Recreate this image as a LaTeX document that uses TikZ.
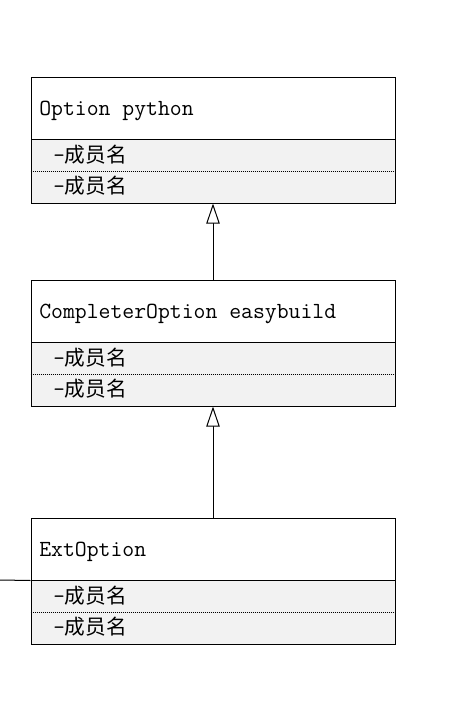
\documentclass[tikz,border=0pt]{standalone}
\usepackage{fontspec}
\newfontfamily\cjk{Noto Sans CJK SC}
\usetikzlibrary{arrows.meta}
\tikzset{
  hdr/.style={draw, line width=0.75pt, fill=white, minimum width=273pt, minimum height=46.5pt, inner sep=0pt},
  body/.style={draw, line width=0.75pt, fill=black!5, minimum width=273pt, minimum height=48pt, inner sep=0pt},
  sep/.style={line width=0.75pt, dash pattern=on 0.75pt off 0.75pt},
  title/.style={anchor=base west, inner sep=0pt, font=\fontsize{17.3pt}{20pt}\ttfamily},
  member/.style={anchor=base west, inner sep=0pt, font=\fontsize{16.8pt}{20pt}\ttfamily},
  inh/.style={line width=0.75pt, -{Triangle[open, length=15pt, width=10pt, fill=white]}},
  plain/.style={line width=0.75pt}
}
\begin{document}
\begin{tikzpicture}[x=0.75pt,y=-0.75pt]
\useasboundingbox (0,0) rectangle (449,701);
% class 1
\node[hdr] (c1h) at (213,108) {};
\node[body] (c1b) at (213,171) {};
\draw[sep] (c1b.west) -- (c1b.east);
\node[title] (t1) at (39,115) {Option python};
\node[member] (m1a) at (53,162) {-{\cjk\fontsize{15.5pt}{18pt}\selectfont 成员名}};
\node[member] (m1b) at (53,193) {-{\cjk\fontsize{15.5pt}{18pt}\selectfont 成员名}};
% class 2
\node[hdr] (c2h) at (213,311) {};
\node[body] (c2b) at (213,374) {};
\draw[sep] (c2b.west) -- (c2b.east);
\node[title] (t2) at (39,318) {CompleterOption easybuild};
\node[member] (m2a) at (53,365) {-{\cjk\fontsize{15.5pt}{18pt}\selectfont 成员名}};
\node[member] (m2b) at (53,396) {-{\cjk\fontsize{15.5pt}{18pt}\selectfont 成员名}};
% class 3
\node[hdr] (c3h) at (213,549) {};
\node[body] (c3b) at (213,612) {};
\draw[sep] (c3b.west) -- (c3b.east);
\node[title] (t3) at (39,556) {ExtOption};
\node[member] (m3a) at (53,603) {-{\cjk\fontsize{15.5pt}{18pt}\selectfont 成员名}};
\node[member] (m3b) at (53,634) {-{\cjk\fontsize{15.5pt}{18pt}\selectfont 成员名}};
% connectors
\draw[inh] (c2h.north) -- (c1b.south);
\draw[inh] (c3h.north) -- (c2b.south);
\coordinate (lft) at (0,580);
\draw[plain] (lft) -- (c3h.south west);
\end{tikzpicture}
\end{document}
